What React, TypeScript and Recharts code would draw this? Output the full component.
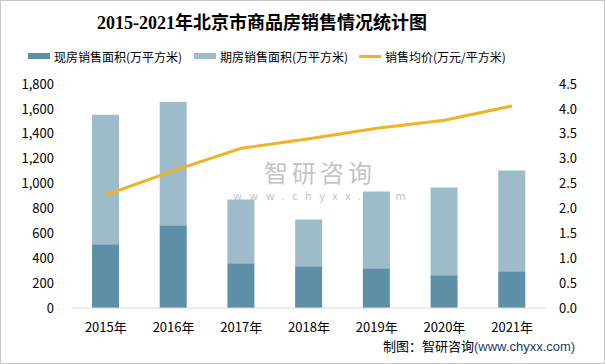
import React from 'react';
import { ComposedChart, Bar, Line, XAxis, YAxis } from 'recharts';

const years = ['2015年', '2016年', '2017年', '2018年', '2019年', '2020年', '2021年'];
const spotArea = [512, 664, 360, 336, 320, 264, 296];
const futureArea = [1040, 992, 512, 376, 616, 704, 808];
const avgPrice = [2.27, 2.76, 3.21, 3.4, 3.61, 3.77, 4.06];

const leftTicks = [0, 200, 400, 600, 800, 1000, 1200, 1400, 1600, 1800];
const rightTicks = [0, 0.5, 1, 1.5, 2, 2.5, 3, 3.5, 4, 4.5];

const data = years.map((year, i) => ({
  year,
  spot: spotArea[i],
  future: futureArea[i],
  price: avgPrice[i],
}));

const DARK = '#5d8fa6';
const LIGHT = '#9ebbca';
const GOLD = '#f0b323';
const FONT = '"Noto Sans CJK SC", "Noto Sans", sans-serif';

// legend drawn by hand to match the original spacing
const ChartLegend = () => {
  const items = [
    { label: '现房销售面积(万平方米)', color: DARK, left: 27, line: false },
    { label: '期房销售面积(万平方米)', color: LIGHT, left: 193, line: false },
    { label: '销售均价(万元/平方米)', color: GOLD, left: 358, line: true },
  ];
  return (
    <div style={{ position: 'absolute', left: 0, top: 45, width: 605, height: 20 }}>
      {items.map((it) => (
        <div
          key={it.label}
          style={{ position: 'absolute', left: it.left, top: 0, display: 'flex', alignItems: 'center', height: 20 }}
        >
          <span
            style={{
              display: 'inline-block',
              width: 22,
              height: it.line ? 3 : 6,
              background: it.color,
              marginRight: 4,
            }}
          />
          <span style={{ fontSize: 12, color: '#000', fontFamily: FONT }}>{it.label}</span>
        </div>
      ))}
    </div>
  );
};

export default function App() {
  return (
    <div
      style={{
        position: 'absolute',
        left: 0,
        top: 0,
        width: 605,
        height: 364,
        background: '#fff',
        boxSizing: 'border-box',
        border: '1px solid #c8c8c8',
        fontFamily: FONT,
        overflow: 'hidden',
      }}
    >
      <div
        style={{
          position: 'absolute',
          top: 10,
          left: 0,
          width: 522,
          textAlign: 'center',
          fontSize: 18,
          lineHeight: '24px',
          fontWeight: 'bold',
          fontFamily: '"Liberation Serif", "Noto Sans CJK SC", serif',
          color: '#000',
        }}
      >
        2015-2021年北京市商品房销售情况统计图
      </div>

      <ChartLegend />

      {/* watermark */}
      <div style={{ position: 'absolute', left: 263, top: 158, color: '#c4c4c4', fontSize: 24, lineHeight: '26px', letterSpacing: 4 }}>
        智研咨询
      </div>
      <div style={{ position: 'absolute', left: 232, top: 188, color: '#c4c4c4', fontSize: 11, lineHeight: '12px', letterSpacing: 7.5 }}>
        www.chyxx.com
      </div>

      <div style={{ position: 'absolute', left: -1, top: -1 }}>
        <ComposedChart
          width={605}
          height={364}
          data={data}
          margin={{ top: 84, right: 0, bottom: 26, left: 0 }}
          barCategoryGap={0}
        >
          <XAxis
            dataKey="year"
            height={30}
            axisLine={{ stroke: '#d9d9d9' }}
            tickLine={false}
            interval={0}
            tick={{ fontSize: 13, fill: '#000' }}
            tickMargin={9}
          />
          <YAxis
            yAxisId="left"
            width={72}
            domain={[0, 1800]}
            ticks={leftTicks}
            interval={0}
            axisLine={false}
            tickLine={false}
            tickSize={0}
            tickMargin={18}
            tick={{ fontSize: 13, fill: '#000' }}
            tickFormatter={(v: number) => v.toLocaleString('en-US')}
          />
          <YAxis
            yAxisId="right"
            orientation="right"
            width={59}
            domain={[0, 4.5]}
            ticks={rightTicks}
            interval={0}
            axisLine={false}
            tickLine={false}
            tickSize={0}
            tickMargin={13}
            tick={{ fontSize: 13, fill: '#000' }}
            tickFormatter={(v: number) => v.toFixed(1)}
          />
          <Bar yAxisId="left" dataKey="spot" stackId="a" fill={DARK} barSize={27} isAnimationActive={false} />
          <Bar yAxisId="left" dataKey="future" stackId="a" fill={LIGHT} barSize={27} isAnimationActive={false} />
          <Line
            yAxisId="right"
            type="linear"
            dataKey="price"
            stroke={GOLD}
            strokeWidth={3}
            dot={false}
            isAnimationActive={false}
          />
        </ComposedChart>
      </div>

      <div style={{ position: 'absolute', left: 382, top: 337, fontSize: 13, lineHeight: '15px', whiteSpace: 'nowrap' }}>
        <span style={{ color: '#000' }}>制图：智研咨询</span>
        <span style={{ color: '#1f3864', fontFamily: '"Liberation Sans", Arial, sans-serif' }}>(www.chyxx.com)</span>
      </div>
    </div>
  );
}
